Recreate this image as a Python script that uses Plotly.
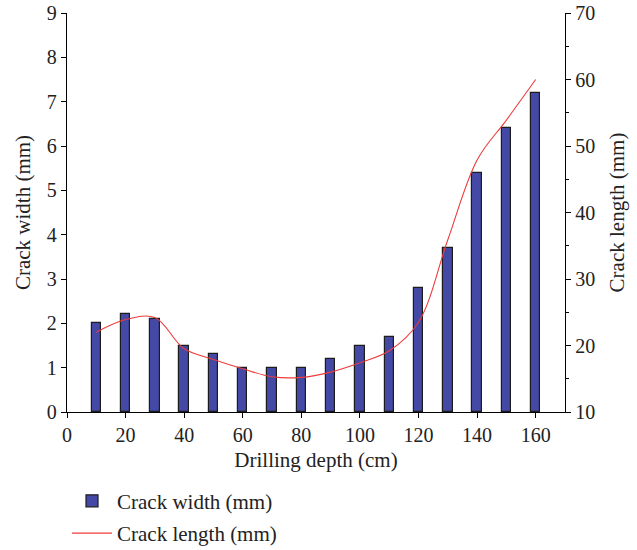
import plotly.graph_objects as go

depth = [10, 20, 30, 40, 50, 60, 70, 80, 90, 100, 110, 120, 130, 140, 150, 160]
crack_width = [2.0, 2.2, 2.1, 1.5, 1.3, 1.0, 1.0, 1.0, 1.2, 1.5, 1.7, 2.8, 3.7, 5.4, 6.4, 7.2]
crack_length = [22.0, 23.9, 24.2, 19.5, 17.9, 16.5, 15.3, 15.2, 16.0, 17.4, 19.2, 23.5, 35.9, 47.9, 53.9, 60.0]

FONT = "Liberation Serif"
FS_TICK = 20
FS_TITLE = 21

fig = go.Figure()
fig.add_trace(go.Bar(
    x=depth, y=crack_width, name="Crack width (mm)", width=3.2,
    marker=dict(color="#4449A6", line=dict(color="#1c1c1c", width=1.2)),
    legendgroup="a",
))
fig.add_trace(go.Scatter(
    x=depth, y=crack_length, name="Crack length (mm)", yaxis="y2",
    mode="lines", line=dict(color="#EE3B3B", width=1.1, shape="spline", smoothing=1.0),
    legendgroup="b",
))

axis_common = dict(
    showline=True, linecolor="black", linewidth=1.3, ticks="outside",
    ticklen=5, tickwidth=1.2, tickcolor="black", showgrid=False, zeroline=False,
    automargin=False,
    tickfont=dict(family=FONT, size=FS_TICK, color="#222"),
)

fig.update_layout(
    width=637, height=550,
    margin=dict(l=67, r=72, t=13, b=138, autoexpand=False),
    plot_bgcolor="white", paper_bgcolor="white",
    font=dict(family=FONT, size=FS_TITLE, color="#222"),
    xaxis=dict(range=[0, 170], dtick=20, tick0=0,
               title=dict(text="Drilling depth (cm)", font=dict(family=FONT, size=FS_TITLE), standoff=7),
               **axis_common),
    yaxis=dict(range=[0, 9], dtick=1,
               title=dict(text="Crack width (mm)", font=dict(family=FONT, size=FS_TITLE), standoff=10),
               **axis_common),
    yaxis2=dict(range=[10, 70], dtick=10, overlaying="y", side="right",
                minor=dict(dtick=5, ticks="outside", ticklen=3, tickcolor="black", tickwidth=1.2),
                title=dict(text="Crack length (mm)", font=dict(family=FONT, size=FS_TITLE), standoff=15),
                **axis_common),
    showlegend=True,
    legend=dict(x=0.0, y=-0.172, xanchor="left", yanchor="top",
                font=dict(family=FONT, size=FS_TITLE, color="#222"),
                itemwidth=40, tracegroupgap=2, bgcolor="rgba(0,0,0,0)"),
    bargap=0,
)

fig.write_html("out.html", config={"displayModeBar": False},
               post_script="document.body.style.margin='0';document.body.style.overflow='hidden';")
